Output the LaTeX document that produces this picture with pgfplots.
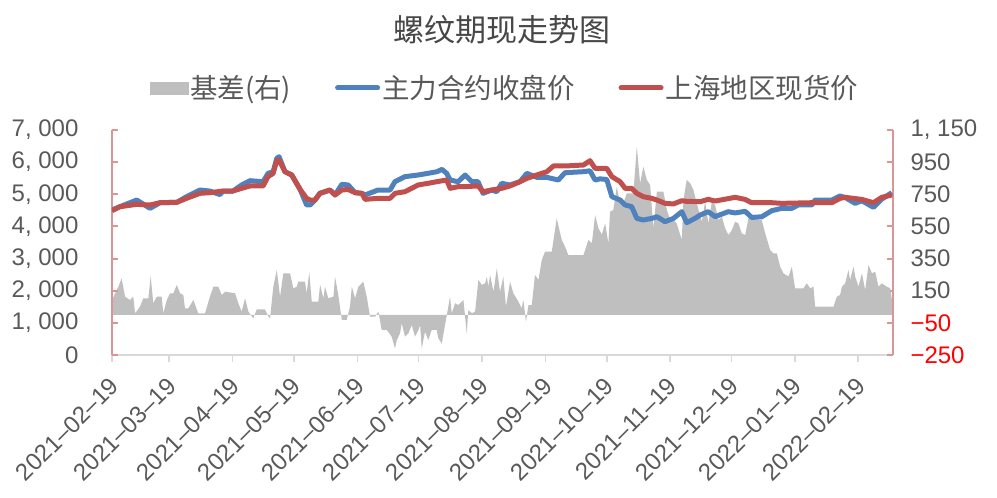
\documentclass[border=0pt]{standalone}
\usepackage{pgfplots}
\pgfplotsset{compat=1.18}
\usepackage{fontspec}
\setmainfont{Liberation Sans}
\newfontfamily\cjk{Noto Sans CJK SC}

\definecolor{futblue}{RGB}{79,129,189}
\definecolor{spotred}{RGB}{192,80,77}
\definecolor{basisgray}{RGB}{191,191,191}
\definecolor{axpink}{RGB}{217,150,148}
\definecolor{axgray}{RGB}{217,217,217}
\definecolor{labgray}{RGB}{89,89,89}

% x: days since 2021-02-19
\pgfplotsset{
  base/.style={scale only axis, width=781pt, height=225pt, xmin=0, xmax=382},
}

\begin{document}
\begin{tikzpicture}
\useasboundingbox (-112pt,-143pt) rectangle (885pt,355pt);

% x axis only
\begin{axis}[base, ymin=0, ymax=7000,
  axis x line*=bottom, axis y line=none,
  x axis line style={draw=axgray, line width=2pt, -},
  xtick={0,28,59,89,120,150,181,212,242,273,303,334,365},
  xticklabels={2021–02–19,2021–03–19,2021–04–19,2021–05–19,2021–06–19,2021–07–19,2021–08–19,2021–09–19,2021–10–19,2021–11–19,2021–12–19,2022–01–19,2022–02–19},
  xtick style={draw=axgray, line width=1.5pt},
  tick align=outside, major tick length=7pt,
  xticklabel style={rotate=45, anchor=east, font=\fontsize{24}{24}\selectfont, text=labgray, xshift=-9pt, yshift=-16pt},
]
\addplot[draw=none] coordinates {(0,0)};
\end{axis}

% basis, right axis
\begin{axis}[base, ymin=-250, ymax=1150,
  axis y line*=right, axis x line=none,
  y axis line style={draw=axpink, line width=2pt, -},
  ytick={-250,-50,150,350,550,750,950,1150},
  yticklabels={{\color{red}−250},{\color{red}−50},150,350,550,750,950,{1, 150}},
  ytick style={draw=axpink, line width=2pt},
  tick align=inside, major tick length=6pt,
  yticklabel style={font=\fontsize{24}{24}\selectfont, text=labgray, xshift=14pt},
]
\addplot[fill=basisgray, draw=none] coordinates {
(0,92)(3.1,175)(4.7,227)(6.4,113)(8.8,92)(10.4,113)(11.3,9)(13.7,51)(15.3,103)(17.8,103)
(18.9,242)(20.2,72)(21.9,113)(24.3,113)(25.1,9)(26.8,92)(28.4,134)(30,134)(31.7,186)(33.3,134)
(34.9,123)(35.7,40)(37.3,40)(39.8,92)(42.2,9)(45.5,9)(47.9,113)(49.6,175)(52,175)(53.7,123)
(55.3,144)(60.2,134)(61.8,72)(63.4,20)(65.1,103)(66.7,20)(69.1,-22)(70.8,34)(74.8,34)(76.5,-11)
(77.3,-22)(78.9,175)(80.6,279)(82.2,113)(83.8,258)(87.1,258)(88.7,165)(90.4,175)(91.1,206)(94.4,206)
(95.2,134)(96.5,265)(97.7,82)(100.9,82)(101.8,186)(103.4,103)(104.2,175)(105.8,103)(108.3,113)(109.1,237)
(110.7,123)(112.4,-32)(114.8,-32)(116.4,51)(117.3,175)(118.9,103)(120.5,175)(122.9,206)(124.6,113)(126.2,-11)
(128.7,-11)(130.3,20)(131.9,-94)(134.4,-94)(136.8,-136)(138.4,-209)(139.3,-157)(140.9,-115)(141.7,-52)(143.3,-136)
(145,-115)(146.6,-63)(148.2,-136)(149.9,-94)(150.7,-63)(151.5,-209)(153.1,-105)(154.7,-157)(156.4,-94)(158.8,-94)
(159.6,-146)(161.3,-178)(162.9,-63)(164.5,51)(165.3,113)(166.2,10)(167.8,72)(169.4,61)(171.9,92)(173.5,-115)
(174.3,30)(176,10)(177.6,20)(179.2,217)(180.9,186)(182.5,196)(183.3,237)(184.1,175)(184.9,248)(186.6,144)
(188.2,289)(189.8,144)(191.4,237)(192.7,51)(194.7,206)(196.3,134)(198.8,82)(200.4,40)(201.2,92)(202.5,-43)
(203.7,61)(205.3,61)(206.9,248)(208.6,217)(210.2,341)(211.8,393)(215.1,393)(217.5,600)(220,466)(221.6,424)
(223.2,372)(230.6,372)(233,466)(234.7,445)(236.3,621)(237.9,538)(239.6,500)(241.2,569)(242.8,445)(243.6,642)
(245.2,652)(246.9,797)(248.5,694)(250.1,694)(251.8,756)(255,756)(256.7,1046)(258.3,818)(259.9,922)(261.6,839)
(263.2,808)(264.8,538)(266.5,766)(269.7,766)(271.4,652)(273,590)(274.6,590)(276.2,569)(278.7,466)(279.5,715)
(281.1,839)(282.8,818)(284.4,777)(286,694)(288.5,580)(290.1,704)(291.7,569)(293.4,704)(295,683)(296.6,590)
(298.3,610)(299.9,538)(301.5,497)(303.2,528)(304.8,580)(306.4,569)(308,507)(309.7,497)(311.3,600)(317.8,590)
(319.5,507)(321.9,403)(323.5,383)(325.2,383)(326.8,300)(328.4,258)(330.9,238)(332.5,300)(334.1,165)(338.2,165)
(339.8,196)(341.5,165)(343.1,175)(343.9,51)(352.9,51)(354.5,113)(356.1,123)(357,175)(358.6,196)(360.2,279)
(361,217)(362.7,300)(363.5,238)(365.1,175)(366.8,258)(368.4,154)(370,310)(371.7,258)(373.3,268)(374.9,175)
(376.5,196)(379,175)(380.6,165)(381.4,100)
} \closedcycle;
\end{axis}

% prices, left axis
\begin{axis}[base, ymin=0, ymax=7000,
  axis y line*=left, axis x line=none,
  y axis line style={draw=axpink, line width=2pt, -},
  ytick={0,1000,2000,3000,4000,5000,6000,7000},
  yticklabels={0,{1, 000},{2, 000},{3, 000},{4, 000},{5, 000},{6, 000},{7, 000}},
  ytick style={draw=axpink, line width=2pt},
  tick align=inside, major tick length=6pt,
  yticklabel style={font=\fontsize{24}{24}\selectfont, text=labgray, xshift=-30pt},
  legend style={at={(0.503,1.187)}, anchor=center, draw=none, fill=none,
    font=\cjk\fontsize{27.5}{30}\selectfont, text=labgray,
    /tikz/every even column/.append style={column sep=42pt}},
  legend columns=3,
]
\addlegendimage{legend image code/.code={\fill[basisgray] (0pt,-6pt) rectangle (38pt,6pt);}}
\addplot[color=futblue, line width=5pt, line join=round,
  legend image code/.code={\draw[line width=5pt, line cap=round] (0pt,0pt) -- (40pt,0pt);}] coordinates {
(0,4510)(3.9,4614)(12.1,4822)(18.6,4563)(23.5,4738)(31.7,4750)(36.5,4925)(43,5133)(47.9,5100)(52.8,4990)
(54.3,5102)(59.2,5102)(63.4,5289)(67.5,5423)(73.9,5390)(76.3,5652)(78.8,5700)(80.6,6119)(81.7,6169)(84.6,5703)
(87.9,5600)(92,5152)(95.2,4667)(96.9,4667)(99.3,4822)(101.7,5030)(106.6,5133)(109.1,4978)(112.4,5310)(115.5,5290)
(118.9,5050)(122.2,5030)(123.8,4978)(130.1,5133)(136,5133)(138.4,5393)(143.3,5548)(149.7,5600)(154.6,5652)(159,5703)
(161.4,5776)(163.7,5650)(165.4,5444)(169.3,5390)(172.7,5600)(176,5393)(179,5393)(181.5,5030)(185.7,5133)(188.2,5080)
(190.6,5341)(194.7,5289)(199.6,5393)(202.9,5652)(207.8,5527)(212.7,5527)(218.3,5444)(221.6,5672)(230.6,5703)(233.8,5730)
(236.3,5444)(238.7,5480)(242,5460)(244.5,4926)(248.5,4822)(251,4667)(254.2,4614)(256.7,4252)(259.8,4200)(264,4250)
(266.5,4303)(270.5,4148)(274.6,4250)(278.7,4459)(281.1,4117)(285.2,4252)(287.7,4355)(291.6,4459)(295,4304)(301.4,4459)
(304.8,4420)(309.7,4470)(312.9,4280)(317.8,4300)(322.7,4490)(327.6,4563)(332.5,4563)(335.7,4667)(342.3,4667)(343.9,4822)
(352.1,4822)(356.1,4947)(358.6,4900)(363.5,4718)(366.8,4800)(372.4,4594)(376.5,4850)(381.4,5050)
};
\addplot[color=spotred, line width=5pt, line join=round,
  legend image code/.code={\draw[line width=5pt, line cap=round] (0pt,0pt) -- (40pt,0pt);}] coordinates {
(0,4490)(3.9,4614)(12.1,4687)(18.6,4666)(23.5,4738)(31.7,4750)(36.5,4874)(43,5030)(47.9,5050)(54.3,5102)
(59.2,5102)(63.4,5185)(67.5,5258)(73.9,5258)(76.3,5548)(78.8,5650)(80.6,6045)(81.7,6070)(84.6,5703)(87.9,5600)
(92,5152)(95.2,4874)(96.9,4822)(99.3,4822)(101.7,5030)(106.6,5133)(109.1,4978)(112.4,5133)(115.5,5150)(118.9,5050)
(122.2,5030)(123.8,4843)(130.1,4874)(136,4874)(138.4,5030)(143.3,5080)(149.7,5289)(154.6,5341)(159,5393)(163.7,5444)
(165.4,5185)(169.3,5237)(172.7,5237)(179,5260)(181.5,5082)(185.7,5133)(190.6,5185)(194.7,5260)(199.6,5393)(202.9,5496)
(207.8,5600)(212.7,5703)(215.9,5880)(221.6,5880)(230.6,5911)(233.8,6045)(236.3,5807)(242,5807)(244.5,5548)(248.5,5393)
(251,5185)(254.2,5185)(256.7,5030)(259.8,4926)(264,4874)(266.5,4822)(270.5,4718)(274.6,4700)(278.7,4800)(281.1,4780)
(287.7,4770)(291.6,4843)(295,4790)(304.8,4905)(309.7,4840)(312.9,4738)(322.7,4738)(327.6,4718)(342.3,4738)(352.1,4738)
(356.1,4874)(358.6,4905)(366.8,4840)(372.4,4738)(376.5,4905)(381.4,4978)
};
\legend{基差(右),主力合约收盘价,上海地区现货价}
\end{axis}

\node[font=\cjk\fontsize{31}{31}\selectfont, text=labgray!80!black] at (390pt,325pt) {螺纹期现走势图};
\end{tikzpicture}
\end{document}
